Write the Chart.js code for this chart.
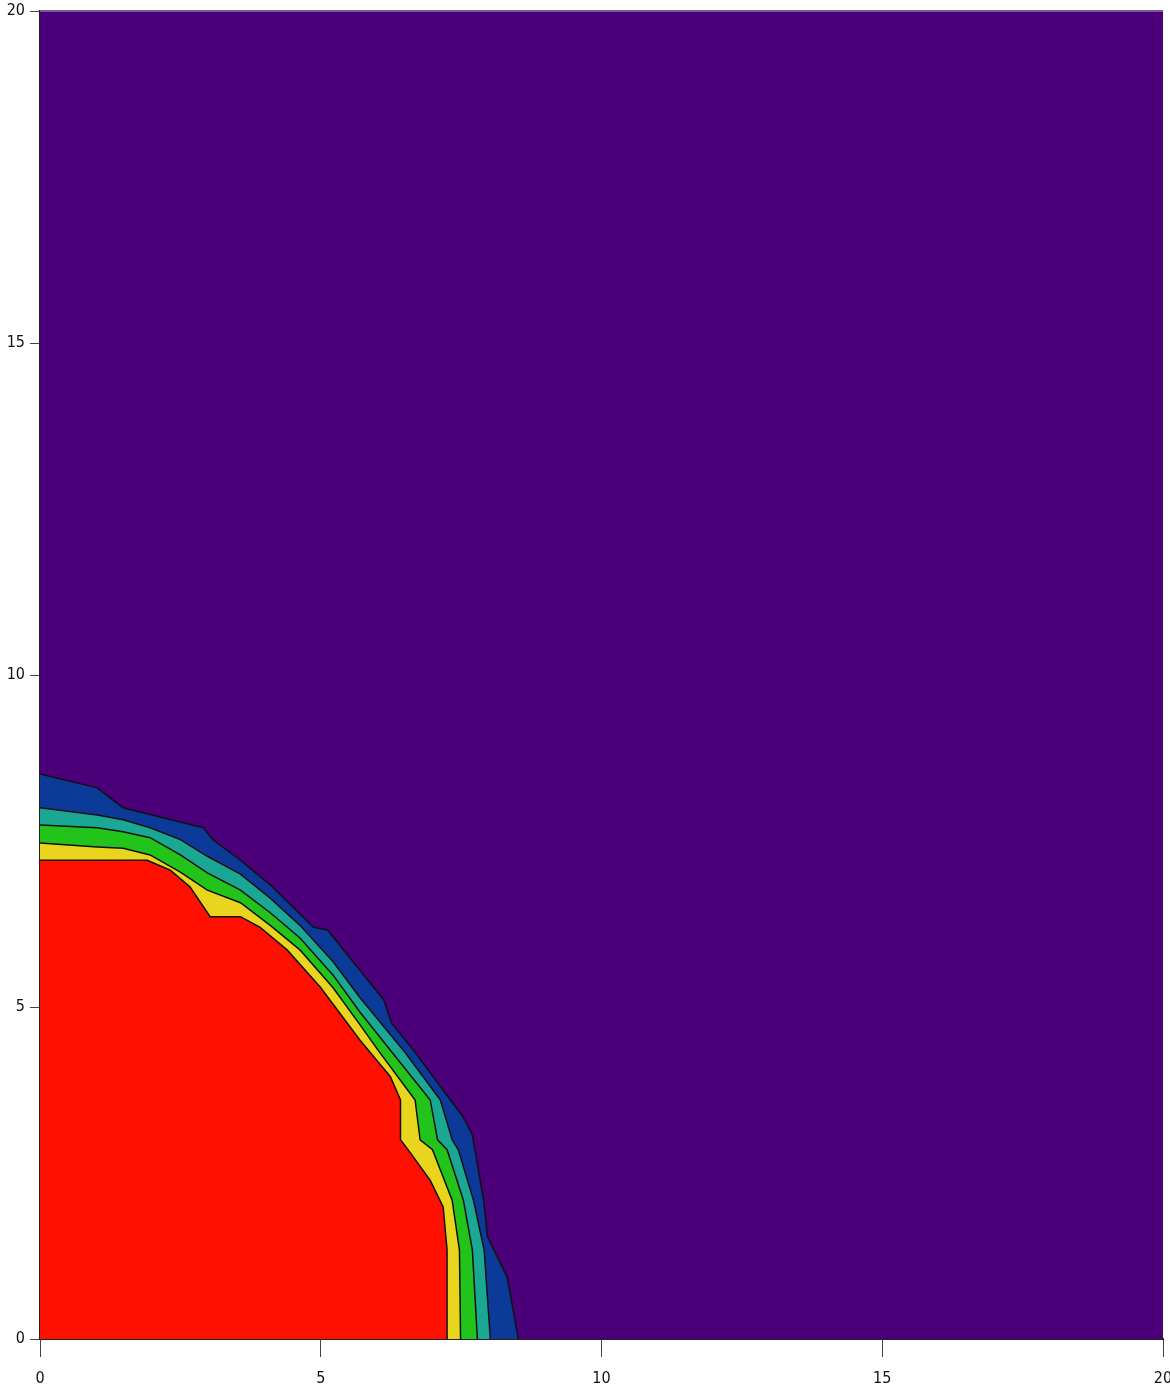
<!DOCTYPE html>
<html>
<head>
<meta charset="utf-8">
<script src="https://cdn.jsdelivr.net/npm/chart.js@4"></script>
<style>
  html, body { margin: 0; padding: 0; background: #fff; }
  #wrap { width: 1170px; height: 1398px; }
</style>
</head>
<body>
<div id="wrap"><canvas id="contour" width="1170" height="1398"></canvas></div>
<script>
// contour boundaries (x, y in axis units)
const redX = [0, 1.91, 2.32, 2.67, 3.03, 3.57, 3.92, 4.40, 4.99, 5.70, 6.24, 6.42, 6.42, 6.60, 6.95, 7.18, 7.25, 7.25];
const redY = [7.21, 7.21, 7.06, 6.81, 6.36, 6.36, 6.20, 5.86, 5.30, 4.50, 3.95, 3.60, 3.00, 2.80, 2.39, 1.99, 1.34, 0];

const yellowX = [0, 1.02, 1.48, 1.96, 2.50, 2.98, 3.57, 4.10, 4.63, 5.22, 5.70, 6.02, 6.68, 6.77, 6.99, 7.34, 7.47, 7.49];
const yellowY = [7.47, 7.41, 7.39, 7.29, 7.03, 6.76, 6.57, 6.23, 5.86, 5.29, 4.73, 4.35, 3.60, 3.00, 2.85, 2.09, 1.34, 0];

const greenX = [0, 1.02, 1.48, 1.96, 2.50, 2.98, 3.57, 4.10, 4.63, 5.22, 5.70, 6.24, 6.95, 7.08, 7.25, 7.54, 7.70, 7.79];
const greenY = [7.74, 7.70, 7.64, 7.55, 7.29, 7.02, 6.76, 6.42, 6.04, 5.48, 4.92, 4.35, 3.60, 3.00, 2.85, 2.09, 1.34, 0];

const tealX = [0, 1.02, 1.48, 1.96, 2.50, 2.98, 3.57, 4.10, 4.63, 5.22, 5.70, 6.47, 7.13, 7.34, 7.45, 7.72, 7.91, 8.02];
const tealY = [8.00, 7.89, 7.82, 7.70, 7.52, 7.27, 7.00, 6.64, 6.23, 5.68, 5.14, 4.35, 3.60, 3.00, 2.85, 2.09, 1.34, 0];

const blueX = [0, 1.02, 1.48, 2.91, 3.08, 3.57, 4.10, 4.87, 5.12, 6.12, 6.26, 6.65, 7.31, 7.54, 7.70, 7.90, 7.97, 8.32, 8.52];
const blueY = [8.51, 8.30, 8.00, 7.70, 7.52, 7.21, 6.84, 6.20, 6.16, 5.11, 4.76, 4.35, 3.60, 3.34, 3.07, 2.09, 1.54, 0.93, 0];

const xTicks = [0, 5, 10, 15, 20];
const yTicks = [0, 5, 10, 15, 20];

const bgColor = "#4b007a";

function toPoints(xs, ys) {
    return xs.map((x, i) => ({ x: x, y: ys[i] }));
}

function band(xs, ys, color) {
    return {
        data: toPoints(xs, ys),
        showLine: true,
        fill: "origin",
        backgroundColor: color,
        borderColor: "#111",
        borderWidth: 1.5,
        pointRadius: 0,
        tension: 0
    };
}

// purple background behind the bands
const plotBackground = {
    id: "plotBackground",
    beforeDatasetsDraw(chart) {
        const a = chart.chartArea;
        const ctx = chart.ctx;
        ctx.save();
        ctx.fillStyle = bgColor;
        ctx.fillRect(a.left, a.top, a.right - a.left, a.bottom - a.top);
        ctx.strokeStyle = "#7a5a9a";
        ctx.lineWidth = 2;
        ctx.beginPath();
        ctx.moveTo(a.left, a.top);
        ctx.lineTo(a.right, a.top);
        ctx.stroke();
        ctx.restore();
    }
};

const tickFont = { family: "'DejaVu Sans Condensed', 'Liberation Serif', serif", size: 16 };

new Chart(document.getElementById("contour"), {
    type: "scatter",
    data: {
        datasets: [
            band(redX, redY, "#ff1000"),
            band(yellowX, yellowY, "#e9d41e"),
            band(greenX, greenY, "#22c41c"),
            band(tealX, tealY, "#1aa894"),
            band(blueX, blueY, "#0b3a98")
        ]
    },
    options: {
        responsive: false,
        animation: false,
        events: [],
        layout: { padding: { top: 11, right: 7, left: 0, bottom: 0 } },
        plugins: { legend: { display: false }, tooltip: { enabled: false } },
        scales: {
            x: {
                type: "linear",
                min: 0,
                max: 20,
                afterBuildTicks: s => { s.ticks = xTicks.map(v => ({ value: v })); },
                afterFit: s => { s.height = 59; s.paddingLeft = 0; s.paddingRight = 0; },
                grid: { drawOnChartArea: false, drawTicks: true, tickLength: 18, color: "#444" },
                border: { display: true, color: "#222", width: 2 },
                ticks: { color: "#111", font: tickFont, padding: 12, maxRotation: 0 }
            },
            y: {
                type: "linear",
                min: 0,
                max: 20,
                afterBuildTicks: s => { s.ticks = yTicks.map(v => ({ value: v })); },
                afterFit: s => { s.width = 40; s.paddingTop = 0; s.paddingBottom = 0; },
                grid: { drawOnChartArea: false, drawTicks: true, tickLength: 10, color: "#444" },
                border: { display: true, color: "#222", width: 2 },
                ticks: { color: "#111", font: tickFont, padding: 5 }
            }
        }
    },
    plugins: [plotBackground]
});
</script>
</body>
</html>
